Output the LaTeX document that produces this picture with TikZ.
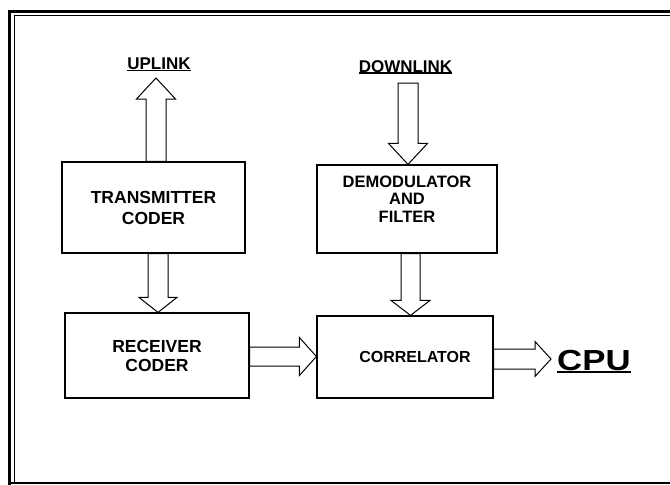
\documentclass[tikz,border=0pt]{standalone}
\usepackage{fontspec}
\setmainfont{Liberation Sans}
\usetikzlibrary{calc}
\newcommand\myul[3]{\setbox0=\hbox{#3}\leavevmode\rlap{\copy0}\raisebox{-#1}{\rule{\wd0}{#2}}}
% start, end, shaft half-width, head half-width, head length
\newcommand\blockarrow[5]{%
  \coordinate (ba-h) at ($(#2)!#5!(#1)$);
  \draw[barrow] ($(#1)!#3!90:(#2)$) -- ($(ba-h)!#3!90:(#2)$) -- ($(ba-h)!#4!90:(#2)$) -- (#2)
    -- ($(ba-h)!#4!-90:(#2)$) -- ($(ba-h)!#3!-90:(#2)$) -- ($(#1)!#3!-90:(#2)$) -- cycle;}
\begin{document}
\begin{tikzpicture}[x=1pt,y=-1pt,
  box/.style={draw, line width=1.2pt, inner sep=0pt, align=center,
    font=\bfseries\fontsize{17.5}{19}\selectfont},
  lbl/.style={inner sep=0pt, font=\bfseries\fontsize{17}{19}\selectfont},
  barrow/.style={draw, line width=1pt, line join=miter, fill=white},
  frame/.style={line width=#1}]
\useasboundingbox (0,0) rectangle (670,485);
% frame
\draw[frame=3pt] (9.5,485) -- (9.5,11) -- (670,11);
\draw[frame=1pt] (14,482) -- (14,15) -- (670,15);
\draw[frame=2pt] (8,483) -- (670,483);
% boxes
\node[box, minimum width=183pt, minimum height=91pt] (tx) at (153.5,207.5) {TRANSMITTER\\[2pt]CODER};
\node[box, minimum width=184pt, minimum height=85pt] (rx) at (157,355.5) {RECEIVER\\CODER};
\node[box, minimum width=180pt, minimum height=88pt, font=\bfseries\fontsize{16.5}{17.5}\selectfont] (dm) at (407,209) {DEMODULATOR\\AND\\FILTER\\[3pt]};
\node[box, minimum width=176pt, minimum height=82pt, font=\bfseries\fontsize{16}{19}\selectfont] (co) at (405,357) {\hspace*{20pt}CORRELATOR};
% labels
\node[lbl, anchor=base] (up) at (159,69.5) {\myul{1.6pt}{1.3pt}{UPLINK}};
\node[lbl, anchor=base] (dn) at (405.5,72) {\myul{1.6pt}{1.3pt}{DOWNLINK}};
\node[inner sep=0pt, anchor=base west, font=\bfseries\fontsize{29}{30}\selectfont] (cpu) at (557,370) {\myul{3pt}{1.8pt}{\scalebox{1.2}[1]{CPU}}};
% arrows
\coordinate (uptip) at (156,78);
\coordinate (dntail) at (408,83);
\coordinate (cpuin) at (551,359);
\blockarrow{$(tx.north)+(2.5,0)$}{uptip}{10pt}{19.5pt}{21pt}
\blockarrow{dntail}{$(dm.north)+(1,0)$}{10pt}{19.5pt}{21pt}
\blockarrow{$(tx.south)+(4.5,0)$}{$(rx.north)+(1,0)$}{10pt}{19pt}{15pt}
\blockarrow{$(dm.south)+(3.5,0)$}{$(co.north)+(5.5,0)$}{9.5pt}{19.5pt}{15pt}
\blockarrow{$(rx.east)+(0,1)$}{$(co.west)+(0,-0.5)$}{9.5pt}{19pt}{17pt}
\blockarrow{$(co.east)+(0,2)$}{cpuin}{10pt}{17.5pt}{16pt}
\end{tikzpicture}
\end{document}
